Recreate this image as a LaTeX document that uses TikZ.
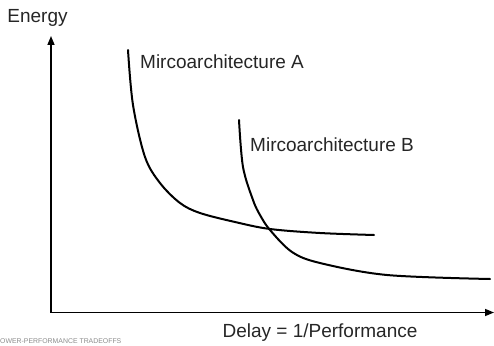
\documentclass[tikz,border=0pt]{standalone}
\usepackage{fontspec}
\setmainfont{Liberation Sans}
\usetikzlibrary{arrows.meta}
\begin{document}
\begin{tikzpicture}[x=1pt,y=-1pt,
  axis/.style={line width=1.5pt,-{Triangle[length=9pt,width=7pt]}},
  curve/.style={line width=2pt,line cap=round},
  lbl/.style={font=\fontsize{19}{22}\selectfont,inner sep=0pt,text=black!85},
  foot/.style={font=\fontsize{6.9}{8}\selectfont,inner sep=0pt,text=black!45,anchor=west}]
\useasboundingbox (0,0) rectangle (494,345);
\coordinate (origin) at (51,312.5);
\coordinate (ytop) at (51,36);
\coordinate (xend) at (494,312.5);
\draw[axis] (origin) -- (ytop);
\draw[axis] (origin) -- (xend);
\node[lbl] (energy) at (37.5,18) {Energy};
\node[lbl] (delay) at (320,333) {Delay = 1/Performance};
\node[lbl,anchor=west] (labA) at (140,62) {Mircoarchitecture A};
\node[lbl,anchor=west] (labB) at (250,145) {Mircoarchitecture B};
\node[foot] (footer) at (0,341) {OWER-PERFORMANCE TRADEOFFS};
\draw[curve] plot[smooth,tension=0.55] coordinates {(128,50) (133,105) (145,157) (160,183) (180,203) (200,213) (235,222) (270,229) (320,233) (374,235)};
\draw[curve] plot[smooth,tension=0.55] coordinates {(239,120) (243,167) (253,200) (260,215) (270,230) (292,252) (320,263) (387,275) (490,279)};
\end{tikzpicture}
\end{document}
